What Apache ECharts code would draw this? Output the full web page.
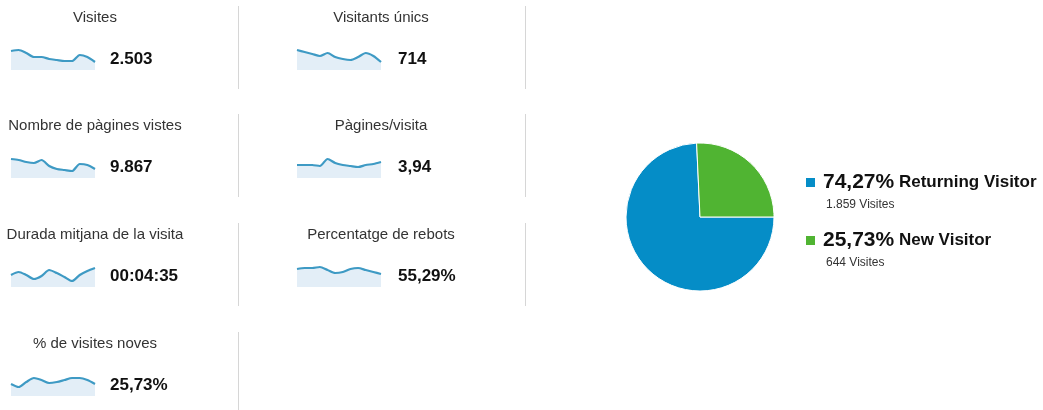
<!DOCTYPE html>
<html lang="ca">
<head>
	<meta charset="UTF-8">
	<title>Resum de visites</title>
	<style type="text/css">
	html, body {
		margin: 0;
		padding: 0;
		background: #fff;
	}
	.dashboard {
		width: 1043px;
		height: 410px;
	}
	</style>
</head>
<body>
	<div class="dashboard"></div>

	<script type="text/javascript" src="https://cdn.jsdelivr.net/npm/echarts@6/dist/echarts.min.js"></script>
	<script type="text/javascript">

		// metric panels (reading order: left column, right column, row by row)
		var metricNames = ['Visites', 'Visitants únics', 'Nombre de pàgines vistes', 'Pàgines/visita',
			'Durada mitjana de la visita', 'Percentatge de rebots', '% de visites noves'];
		var metricValues = ['2.503', '714', '9.867', '3,94', '00:04:35', '55,29%', '25,73%'];

		// sparkline trends (relative height)
		var visitesTrend = [19, 20, 17, 13, 13, 11, 10, 9, 9, 15, 13, 8];
		var visitantsTrend = [20, 18, 16, 14, 17, 13, 11, 10, 13, 17, 14, 8];
		var pagesTrend = [19, 18, 16, 15, 18, 12, 9, 8, 7, 14, 13, 9];
		var pagesPerVisitTrend = [13, 13, 13, 12, 19, 15, 13, 12, 11, 13, 14, 16];
		var durationTrend = [12, 15, 12, 8, 11, 17, 14, 10, 6, 12, 16, 19];
		var bounceTrend = [18, 19, 19, 20, 17, 14, 15, 18, 19, 17, 15, 13];
		var newVisitsTrend = [12, 9, 14, 18, 16, 13, 14, 16, 18, 18, 16, 12];
		var trends = [visitesTrend, visitantsTrend, pagesTrend, pagesPerVisitTrend,
			durationTrend, bounceTrend, newVisitsTrend];

		// visitor type pie
		var visitorTypes = ['Returning Visitor', 'New Visitor'];
		var visitorCounts = [1859, 644];
		var visitorColors = ['#058dc7', '#50b432'];

		// layout
		var rowTops = [1, 109, 218, 327];
		var colLeft = [11, 297];
		var colTitleX = [95, 381];
		var colValueX = [110, 398];
		var colSepX = [238.5, 525.5];
		var sparkW = 84;

		var chart = echarts.init(document.getElementsByClassName('dashboard')[0]);

		var total = visitorCounts.reduce(function (a, b) { return a + b; }, 0);

		function fmtInt (n) {
			return String(n).replace(/\B(?=(\d{3})+(?!\d))/g, '.');
		}
		function fmtPct (n) {
			return (n / total * 100).toFixed(2).replace('.', ',') + '%';
		}

		var grids = [], xAxes = [], yAxes = [], series = [], graphics = [];

		trends.forEach(function (data, i) {
			var row = Math.floor(i / 2), col = i % 2;
			var top = rowTops[row];
			grids.push({
				left: colLeft[col], top: top + 39, width: sparkW, height: 30
			});
			xAxes.push({
				type: 'category', gridIndex: i, show: false, boundaryGap: false,
				data: data.map(function (d, k) { return k; })
			});
			yAxes.push({ type: 'value', gridIndex: i, show: false, min: 0, max: 30 });
			series.push({
				type: 'line', xAxisIndex: i, yAxisIndex: i, data: data,
				symbol: 'none', silent: true, smooth: 0.25,
				lineStyle: { color: '#3e9ac4', width: 2.2 },
				areaStyle: { color: '#e3eef7', opacity: 1 }
			});

			graphics.push({
				type: 'text', x: colTitleX[col], y: top + 17,
				style: {
					text: metricNames[i], fill: '#333',
					font: '15px "Liberation Sans", Arial, sans-serif',
					textAlign: 'center', textVerticalAlign: 'middle'
				}
			});
			graphics.push({
				type: 'text', x: colValueX[col], y: top + 58,
				style: {
					text: metricValues[i], fill: '#111',
					font: 'bold 17px "Liberation Sans", Arial, sans-serif',
					textAlign: 'left', textVerticalAlign: 'middle'
				}
			});
		});

		// separators
		rowTops.forEach(function (top, row) {
			colSepX.forEach(function (x, col) {
				if (row === 3 && col === 1) return;
				graphics.push({
					type: 'line', silent: true,
					shape: { x1: x, y1: top + 5, x2: x, y2: row === 3 ? 410 : top + 88 },
					style: { stroke: '#d6d6d6', lineWidth: 1 }
				});
			});
		});

		// legend sub lines
		visitorCounts.forEach(function (c, i) {
			graphics.push({
				type: 'text', x: 826, y: 205 + i * 58,
				style: {
					text: fmtInt(c) + ' Visites', fill: '#333',
					font: '12px "Liberation Sans", Arial, sans-serif',
					textVerticalAlign: 'middle'
				}
			});
		});

		series.push({
			type: 'pie',
			center: [700, 217],
			radius: 74,
			startAngle: 0,
			silent: true,
			label: { show: false },
			labelLine: { show: false },
			itemStyle: { borderColor: '#fff', borderWidth: 1 },
			data: visitorTypes.map(function (name, i) {
				return { name: name, value: visitorCounts[i], itemStyle: { color: visitorColors[i] } };
			})
		});

		var option = {
			backgroundColor: '#fff',
			animation: false,
			grid: grids,
			xAxis: xAxes,
			yAxis: yAxes,
			legend: {
				data: visitorTypes,
				orient: 'vertical',
				left: 804,
				top: 172,
				padding: 0,
				icon: 'rect',
				itemWidth: 11,
				itemHeight: 11,
				itemGap: 37,
				selectedMode: false,
				formatter: function (name) {
					var i = visitorTypes.indexOf(name);
					return '{pct|' + fmtPct(visitorCounts[i]) + '}{nm| ' + name + '}';
				},
				textStyle: {
					fontFamily: '"Liberation Sans", Arial, sans-serif',
					color: '#111',
					padding: [0, 0, 0, 2],
					rich: {
						pct: { fontSize: 21, fontWeight: 'bold', lineHeight: 24, color: '#111',
							fontFamily: '"Liberation Sans", Arial, sans-serif' },
						nm: { fontSize: 17, fontWeight: 'bold', lineHeight: 24, color: '#111',
							fontFamily: '"Liberation Sans", Arial, sans-serif' }
					}
				}
			},
			graphic: graphics,
			series: series
		};

		chart.setOption(option);

	</script>
</body>
</html>
